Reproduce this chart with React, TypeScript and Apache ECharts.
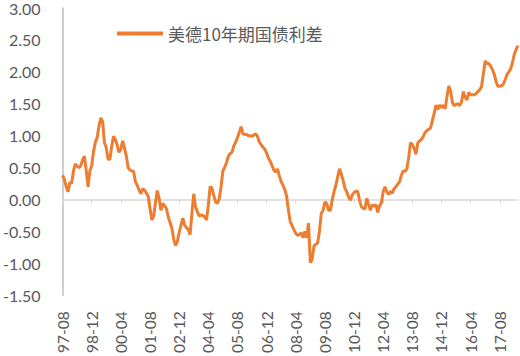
import React, { useEffect, useRef } from "react";
import * as echarts from "echarts";

const seriesName = "美德10年期国债利差";
const startYear = 1997;
const startMonth = 8;

const spread = [
  0.38, 0.32, 0.20, 0.12, 0.27, 0.25, 0.45, 0.56, 0.52, 0.50,
  0.53, 0.62, 0.68, 0.45, 0.20, 0.45, 0.53, 0.75, 0.90, 0.97,
  1.15, 1.28, 1.22, 0.89, 0.81, 0.63, 0.63, 0.84, 0.99, 0.94,
  0.85, 0.74, 0.79, 0.92, 0.81, 0.68, 0.50, 0.46, 0.45, 0.44,
  0.28, 0.22, 0.15, 0.09, 0.17, 0.15, 0.10, 0.05, -0.14, -0.32,
  -0.26, -0.05, 0.14, 0.02, -0.17, -0.06, -0.10, -0.14, -0.27, -0.36,
  -0.45, -0.62, -0.72, -0.66, -0.52, -0.40, -0.29, -0.40, -0.44, -0.47,
  -0.55, -0.22, 0.09, -0.12, -0.19, -0.26, -0.24, -0.25, -0.27, -0.32,
  -0.09, 0.20, 0.18, 0.06, -0.04, -0.06, 0.01, 0.20, 0.45, 0.50,
  0.58, 0.68, 0.72, 0.74, 0.84, 0.90, 0.97, 1.05, 1.14, 1.03,
  1.02, 1.02, 1.00, 1.00, 0.99, 1.01, 1.03, 0.99, 0.90, 0.86,
  0.82, 0.79, 0.73, 0.65, 0.60, 0.53, 0.46, 0.43, 0.48, 0.37,
  0.28, 0.22, 0.16, 0.05, -0.17, -0.35, -0.41, -0.47, -0.53, -0.56,
  -0.55, -0.52, -0.60, -0.50, -0.60, -0.37, -0.99, -0.94, -0.73, -0.70,
  -0.68, -0.50, -0.22, -0.17, -0.04, -0.06, -0.17, -0.17, -0.01, 0.12,
  0.22, 0.35, 0.48, 0.40, 0.30, 0.18, 0.12, 0.04, -0.01, 0.07,
  0.11, 0.13, 0.13, -0.01, -0.11, -0.14, -0.15, 0.02, -0.08, -0.17,
  -0.08, -0.10, -0.08, -0.20, -0.10, -0.05, 0.12, 0.20, 0.12, 0.08,
  0.13, 0.10, 0.17, 0.20, 0.24, 0.28, 0.38, 0.45, 0.44, 0.48,
  0.66, 0.89, 0.86, 0.80, 0.71, 0.89, 0.92, 0.94, 0.99, 1.05,
  1.08, 1.10, 1.12, 1.24, 1.35, 1.48, 1.41, 1.48, 1.44, 1.48,
  1.42, 1.61, 1.78, 1.70, 1.52, 1.47, 1.49, 1.50, 1.47, 1.53,
  1.69, 1.60, 1.56, 1.68, 1.64, 1.64, 1.64, 1.66, 1.69, 1.72,
  1.77, 1.97, 2.17, 2.13, 2.13, 2.09, 2.03, 1.96, 1.84, 1.77,
  1.78, 1.78, 1.81, 1.88, 1.96, 2.00, 2.05, 2.15, 2.28, 2.35,
  2.41,
];

const months = spread.map((_, i) => {
  const m = startMonth - 1 + i;
  const y = startYear + Math.floor(m / 12);
  const mm = (m % 12) + 1;
  return `${String(y % 100).padStart(2, "0")}-${String(mm).padStart(2, "0")}`;
});

const yMin = -1.5;
const yMax = 3;
const yStep = 0.5;

export default function App() {
  const ref = useRef<HTMLDivElement>(null);
  useEffect(() => {
    if (!ref.current) return;
    const chart = echarts.init(ref.current, null, { renderer: "svg" });
    const labelColor = "#595959";
    chart.setOption({
      animation: false,
      backgroundColor: "#ffffff",
      grid: { left: 60, right: 2, top: 7, bottom: 58, containLabel: false },
      legend: {
        left: 112,
        top: 20,
        icon: "rect",
        itemWidth: 46,
        itemHeight: 4,
        itemGap: 6,
        data: [seriesName],
        textStyle: {
          color: labelColor,
          fontSize: 17,
          fontFamily: "'Noto Sans CJK SC', Lato, sans-serif",
        },
      },
      xAxis: [
        {
          type: "category",
          data: months,
          boundaryGap: false,
          position: "bottom",
          axisLine: { show: false, onZero: false },
          axisTick: { show: false },
          axisLabel: {
            interval: 15,
            rotate: 90,
            margin: 16,
            color: labelColor,
            fontSize: 15.5,
            fontFamily: "Lato, sans-serif",
          },
          splitLine: { show: false },
        },
        {
          type: "category",
          data: months,
          boundaryGap: false,
          position: "bottom",
          axisLine: { show: true, onZero: true, lineStyle: { color: "#d9d9d9", width: 1.5 } },
          axisTick: { show: true, interval: 15, length: 4, lineStyle: { color: "#d9d9d9" } },
          axisLabel: { show: false },
          splitLine: { show: false },
        },
      ],
      yAxis: {
        type: "value",
        min: yMin,
        max: yMax,
        interval: yStep,
        axisLine: { show: true, lineStyle: { color: "#bfbfbf", width: 1.5 } },
        axisTick: { show: false },
        splitLine: { show: false },
        axisLabel: {
          margin: 22,
          color: labelColor,
          fontSize: 16,
          fontFamily: "Lato, sans-serif",
          formatter: (v: number) => v.toFixed(2),
        },
      },
      series: [
        {
          name: seriesName,
          type: "line",
          xAxisIndex: 0,
          data: spread,
          symbol: "none",
          lineStyle: { color: "#ED7D31", width: 3 },
          itemStyle: { color: "#ED7D31" },
        },
      ],
    });
    return () => chart.dispose();
  }, []);
  return (
    <div
      ref={ref}
      style={{ position: "fixed", left: 0, top: 0, width: 520, height: 356 }}
    />
  );
}
